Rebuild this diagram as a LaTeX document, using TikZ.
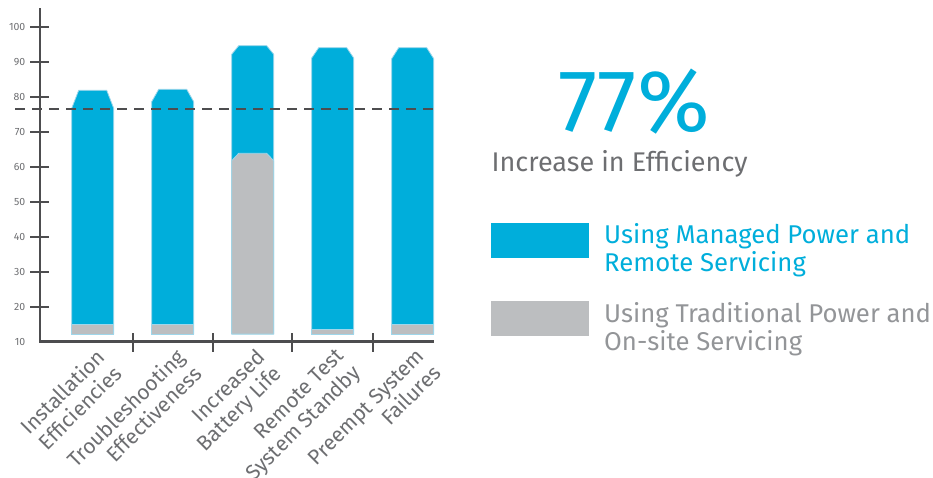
\documentclass[tikz,border=0pt]{standalone}
\usepackage{fontspec}
\setmainfont{Fira Sans}
\definecolor{cblue}{HTML}{00AEDB}
\definecolor{cgray}{HTML}{BCBEC0}
\definecolor{cline}{HTML}{9FD6EA}
\definecolor{axisc}{HTML}{4D4D4F}
\definecolor{txtdark}{HTML}{6D6E71}
\definecolor{txtlight}{HTML}{939598}
\tikzset{
  axisline/.style={draw=axisc, line width=2.6pt},
  tickline/.style={draw=axisc, line width=2.2pt},
  bluebar/.style={fill=cblue, draw=cline, line width=0.8pt},
  graybar/.style={fill=cgray, draw=cline, line width=0.8pt},
  ylab/.style={anchor=east, text=txtdark, font=\fontsize{10.5}{12}\selectfont, inner sep=0pt},
  catlab/.style={rotate=45, anchor=north east, align=right, text=txtdark, inner sep=0pt, font=\fontsize{21}{23.5}\selectfont},
  legtext/.style={align=left, inner sep=0pt, font=\fontsize{25.7}{28}\selectfont}
}
\begin{document}
\begin{tikzpicture}[x=1pt,y=-1pt]
\useasboundingbox (0,0) rectangle (933,477);
% bars
\foreach \i/\top/\sh/\g in {1/90.3/108.3/324, 2/89.3/101.7/324, 4/47.7/58/329, 5/47.7/58.7/324}{
  \pgfmathsetmacro\L{71.7+80*(\i-1)}
  \pgfmathsetmacro\R{\L+42}
  \path[bluebar] (\L,334) -- (\L,\sh) -- (\L+7,\top) -- (\R-7,\top) -- (\R,\sh) -- (\R,334) -- cycle;
  \path[graybar] (\L,\g) rectangle (\R,334);
}
\path[bluebar] (231.7,334) -- (231.7,54.3) -- (238.7,45.7) -- (266.7,45.7) -- (273.7,54.3) -- (273.7,334) -- cycle;
\path[graybar] (231.7,334) -- (231.7,160.7) -- (238.7,153.3) -- (266.7,153.3) -- (273.7,160.7) -- (273.7,334) -- cycle;
% dashed reference line
\coordinate (dl) at (15,109);
\coordinate (dr) at (434,109);
\draw[axisc, line width=1.3pt, dash pattern=on 10pt off 7pt] (dl) -- (dr);
% axes
\coordinate (ytop) at (40,8);
\coordinate (orig) at (40,341.7);
\coordinate (xend) at (434,341.7);
\draw[axisline] (ytop) -- (orig) -- (xend);
% y ticks and labels
\foreach \v in {20,30,...,100}{
  \pgfmathsetmacro\yy{341.7-(\v-10)*3.5}
  \draw[tickline] (30,\yy) -- (49,\yy);
  \node[ylab] (y\v) at (25.5,\yy) {\v};
}
\node[ylab] (y10) at (25.5,341.7) {10};
% x ticks
\foreach \xx in {133,212.7,292,372.7}{
  \draw[tickline] (\xx,333) -- (\xx,351.7);
}
% category labels
\node[catlab] (c1) at (95,347) {Installation\\Efficiencies};
\node[catlab] (c2) at (175,347) {Troubleshooting\\Effectiveness};
\node[catlab] (c3) at (255,347) {Increased\\Battery Life};
\node[catlab] (c4) at (335,347) {Remote Test\\System Standby};
\node[catlab] (c5) at (415,347) {Preempt System\\Failures};
% headline
\node[anchor=base west, inner sep=0pt, text=cblue, font=\fontsize{88}{90}\selectfont] (pct) at (558,131.7) {77\%};
\node[anchor=base west, inner sep=0pt, text=txtdark, font=\fontsize{27}{30}\selectfont] (inc) at (491.5,171.7) {Increase in Efficiency};
% legend
\fill[cblue] (491,223) rectangle (589,257.7);
\fill[cgray] (491,301) rectangle (589,335.7);
\node[legtext, text=cblue, anchor=base west] (l1) at (604,271.3) {Using Managed Power and\\Remote Servicing};
\node[legtext, text=txtlight, anchor=base west] (l2) at (604,350.3) {Using Traditional Power and\\On-site Servicing};
\end{tikzpicture}
\end{document}
